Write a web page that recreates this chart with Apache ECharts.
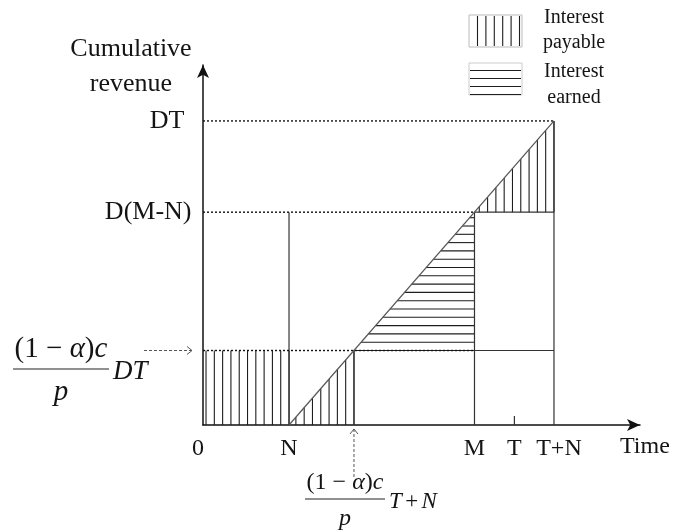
<!DOCTYPE html>
<html>
<head>
<meta charset="utf-8">
<script src="https://cdn.jsdelivr.net/npm/echarts@6/dist/echarts.min.js"></script>
<style>
  html, body { margin: 0; padding: 0; background: #fff; }
  #chart { width: 676px; height: 532px; }
</style>
</head>
<body>
<div id="chart"></div>
<script>
// Points in time along the horizontal axis
const N = 10;
const K = 17.55;      // (1-α)c/p · T + N
const M = 31.56;
const T = 36.2;
const TN = 40.8;      // T + N
const X_MAX = 50.8;

// Cumulative revenue levels
const DT = 100;
const DMN = 70;       // D(M-N)
const KDT = 24.5;     // (1-α)c/p · DT
const Y_MAX = 118.4;

// Tick labels
const xTickLabels = [['0', 0], ['N', N], ['M', M], ['T', T], ['T+N', TN]];
const yTickLabels = [['DT', DT], ['D(M-N)', DMN]];

// Shaded regions as polygons in (time, revenue)
const payableRegions = [
  [[0, 0], [N, 0], [N, KDT], [0, KDT]],
  [[N, 0], [K, 0], [K, KDT]],
  [[M, DMN], [TN, DMN], [TN, DT]]
];
const earnedRegions = [
  [[K, KDT], [M, KDT], [M, DMN]]
];

// Reference lines
const solidSegments = [
  [[N, 0], [N, DMN]],
  [[K, 0], [K, KDT]],
  [[M, 0], [M, DMN]],
  [[TN, 0], [TN, DT]],
  [[T, 0], [T, 3]],
  [[M, DMN], [TN, DMN]],
  [[M, KDT], [TN, KDT]]
];
const dottedSegments = [
  [[0, DT], [TN, DT]],
  [[0, DMN], [M, DMN]],
  [[0, KDT], [M, KDT]]
];
const revenueLine = [[N, 0], [TN, DT]];

const SERIF = '"Liberation Serif", "DejaVu Serif", serif';
const INK = '#141414';
const HATCH_GAP = 8.3;

// extent of a polygon along a scan line (axis 0: x = v, axis 1: y = v)
function spanAt(poly, axis, v) {
  const o = 1 - axis;
  let lo = Infinity, hi = -Infinity;
  for (let i = 0; i < poly.length; i++) {
    const a = poly[i], b = poly[(i + 1) % poly.length];
    if (v < Math.min(a[axis], b[axis]) - 0.01 || v > Math.max(a[axis], b[axis]) + 0.01) continue;
    if (Math.abs(b[axis] - a[axis]) < 1e-6) {
      lo = Math.min(lo, a[o], b[o]); hi = Math.max(hi, a[o], b[o]);
      continue;
    }
    const t = (v - a[axis]) / (b[axis] - a[axis]);
    const w = a[o] + t * (b[o] - a[o]);
    lo = Math.min(lo, w); hi = Math.max(hi, w);
  }
  return [lo, hi];
}

function hatchRenderer(regions, vertical) {
  return function (params, api) {
    const poly = regions[params.dataIndex].map(p => api.coord(p));
    const children = [];
    const style = { stroke: '#1e1e1e', lineWidth: 1.1 };
    if (vertical) {
      const xs = poly.map(p => p[0]);
      const x0 = Math.min(...xs), x1 = Math.max(...xs);
      for (let x = x1; x > x0 + 1.5; x -= HATCH_GAP) {
        const s = spanAt(poly, 0, x);
        if (s[1] - s[0] < 0.5) continue;
        children.push({ type: 'line', shape: { x1: x, y1: s[0], x2: x, y2: s[1] }, style });
      }
    } else {
      const ys = poly.map(p => p[1]);
      const y0 = Math.min(...ys), y1 = Math.max(...ys);
      for (let y = y1; y > y0 + 1.5; y -= HATCH_GAP) {
        const s = spanAt(poly, 1, y);
        if (s[1] - s[0] < 0.5) continue;
        children.push({ type: 'line', shape: { x1: s[0], y1: y, x2: s[1], y2: y }, style });
      }
    }
    return { type: 'group', children };
  };
}

function segmentSeries(seg, lineStyle) {
  return {
    type: 'line', data: seg, symbol: 'none', silent: true,
    lineStyle, z: 3, animation: false
  };
}

const series = [];
series.push({
  type: 'custom', renderItem: hatchRenderer(payableRegions, true),
  data: payableRegions.map(p => p[0]), silent: true, z: 2, animation: false
});
series.push({
  type: 'custom', renderItem: hatchRenderer(earnedRegions, false),
  data: earnedRegions.map(p => p[0]), silent: true, z: 2, animation: false
});
solidSegments.forEach(s => series.push(segmentSeries(s, { color: '#333', width: 1.2 })));
dottedSegments.forEach(s => series.push(segmentSeries(s, { color: '#111', width: 1.4, type: [2, 2] })));
series.push(segmentSeries(revenueLine, { color: '#555', width: 1.2 }));

const hiddenPoint = { color: 'rgba(0,0,0,0)', opacity: 1 };
series.push({
  type: 'scatter', silent: true, symbolSize: 1, itemStyle: hiddenPoint,
  animation: false, z: 5,
  data: xTickLabels.map(([t, v]) => ({
    value: [v, 0],
    label: { formatter: t, offset: t === '0' ? [-5, 0] : (t === 'T+N' ? [5, 0] : [0, 0]) }
  })),
  label: { show: true, position: 'bottom', distance: 11, fontFamily: SERIF, fontSize: 24,
    color: INK, opacity: 1 }
});
series.push({
  type: 'scatter', silent: true, symbolSize: 1, itemStyle: hiddenPoint,
  animation: false, z: 5,
  data: yTickLabels.map(([t, v]) => ({
    value: [0, v],
    label: { formatter: t, distance: t === 'DT' ? 18 : 11 }
  })),
  label: { show: true, position: 'left', fontFamily: SERIF, fontSize: 26, color: INK, opacity: 1 }
});

const chart = echarts.init(document.getElementById('chart'));
chart.setOption({
  animation: false,
  grid: { left: 203, right: 36, top: 65, bottom: 107 },
  xAxis: {
    type: 'value', min: 0, max: X_MAX,
    axisLine: { show: true, onZero: false, symbol: ['none', 'arrow'], symbolSize: [9, 13],
      lineStyle: { color: '#111', width: 1.5 } },
    axisTick: { show: false }, axisLabel: { show: false }, splitLine: { show: false }
  },
  yAxis: {
    type: 'value', min: 0, max: Y_MAX,
    axisLine: { show: true, onZero: false, symbol: ['none', 'arrow'], symbolSize: [9, 13],
      lineStyle: { color: '#111', width: 1.5 } },
    axisTick: { show: false }, axisLabel: { show: false }, splitLine: { show: false }
  },
  series
});

// Annotations: titles, fraction labels, pointer arrows and the key
const o = chart.convertToPixel({ gridIndex: 0 }, [0, 0]);
const pK = chart.convertToPixel({ gridIndex: 0 }, [K, KDT]);

function mathText(x, y, text, size, align) {
  return {
    type: 'text', x, y, silent: true,
    style: {
      text, align: align || 'center', verticalAlign: 'middle',
      rich: {
        u: { fontFamily: SERIF, fontSize: size, fill: INK },
        i: { fontFamily: SERIF, fontSize: size, fontStyle: 'italic', fill: INK }
      }
    }
  };
}
function plainText(x, y, text, size, align) {
  return {
    type: 'text', x, y, silent: true,
    style: { text, fontFamily: SERIF, fontSize: size, fill: INK,
      align: align || 'center', verticalAlign: 'middle' }
  };
}
function fraction(cx, barY, halfW, size, tail, tailSize) {
  return [
    mathText(cx, barY - size * 0.66, '{u|(1 − }{i|α}{u|)}{i|c}', size),
    { type: 'line', silent: true, shape: { x1: cx - halfW, y1: barY, x2: cx + halfW, y2: barY },
      style: { stroke: '#222', lineWidth: 1.2 } },
    mathText(cx, barY + size * 0.8, '{i|p}', size),
    mathText(cx + halfW + 4, barY + 3, tail, tailSize || size, 'left')
  ];
}

const keyVertical = [];
for (let i = 0; i < 6; i++) {
  const x = 477.5 + i * 8.4;
  keyVertical.push({ type: 'line', silent: true, shape: { x1: x, y1: 16, x2: x, y2: 46 },
    style: { stroke: '#1e1e1e', lineWidth: 1.1 } });
}
const keyHorizontal = [];
for (let i = 0; i < 4; i++) {
  const y = 70.5 + i * 8;
  keyHorizontal.push({ type: 'line', silent: true, shape: { x1: 470, y1: y, x2: 521, y2: y },
    style: { stroke: '#1e1e1e', lineWidth: 1.1 } });
}

const arrowStyle = { stroke: '#555', lineWidth: 1, lineDash: [3, 2] };
chart.setOption({
  graphic: [
    plainText(131, 49, 'Cumulative', 26),
    plainText(131, 84, 'revenue', 26),
    plainText(620, 447, 'Time', 24, 'left'),
    ...fraction(61, 369, 48, 29, '{i|DT}', 27),
    ...fraction(345, 499, 40, 24, '{i|T} {u|+} {i|N}', 23),
    { type: 'line', silent: true, shape: { x1: 144, y1: pK[1], x2: o[0] - 11, y2: pK[1] }, style: arrowStyle },
    { type: 'polyline', silent: true,
      shape: { points: [[o[0] - 16, pK[1] - 4], [o[0] - 11, pK[1]], [o[0] - 16, pK[1] + 4]] },
      style: { stroke: '#555', lineWidth: 1, fill: null } },
    { type: 'line', silent: true, shape: { x1: pK[0], y1: 477, x2: pK[0], y2: o[1] + 4 }, style: arrowStyle },
    { type: 'polyline', silent: true,
      shape: { points: [[pK[0] - 4, o[1] + 9], [pK[0], o[1] + 4], [pK[0] + 4, o[1] + 9]] },
      style: { stroke: '#555', lineWidth: 1, fill: null } },
    { type: 'rect', silent: true, shape: { x: 469, y: 15, width: 53, height: 32 },
      style: { stroke: '#bbb', lineWidth: 1, fill: '#fff' } },
    ...keyVertical,
    { type: 'rect', silent: true, shape: { x: 469, y: 63, width: 53, height: 32 },
      style: { stroke: '#ccc', lineWidth: 1, fill: '#fff' } },
    ...keyHorizontal,
    plainText(574, 18, 'Interest', 20),
    plainText(574, 43, 'payable', 20),
    plainText(574, 72, 'Interest', 20),
    plainText(574, 98, 'earned', 20)
  ]
});
</script>
</body>
</html>
